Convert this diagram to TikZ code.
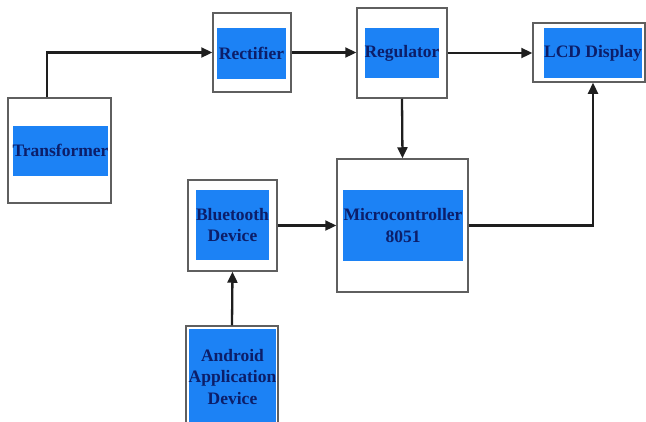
\documentclass[tikz,border=0pt]{standalone}
\usepackage{fontspec}
\setmainfont{Liberation Serif}[BoldFont={Liberation Serif Bold}]
\newfontfamily\boxfont{Liberation Serif Bold}
\usetikzlibrary{arrows.meta,calc}
\definecolor{boxblue}{RGB}{28,130,245}
\definecolor{txtnavy}{RGB}{12,30,105}
\definecolor{framegray}{RGB}{95,95,95}
\definecolor{arrowgray}{RGB}{30,30,30}
\tikzset{
  outerbox/.style={draw=framegray, line width=1.5pt, fill=white, rectangle, inner sep=0pt},
  innerbox/.style={fill=boxblue, rectangle, inner sep=0pt, text=txtnavy, align=center,
    font=\boxfont\fontsize{17.5}{21.5}\selectfont},
  arr/.style={draw=arrowgray, line width=2.3pt, -{Triangle[length=11pt,width=10pt]}}
}
\begin{document}
\begin{tikzpicture}[x=1pt,y=-1pt]
\useasboundingbox (0,0) rectangle (646,421);
% outer frames
\node[outerbox, minimum width=103pt, minimum height=105pt] (trO) at (59.5,150.5) {};
\node[outerbox, minimum width=78pt, minimum height=79pt] (reO) at (252,52.5) {};
\node[outerbox, minimum width=90pt, minimum height=90pt] (rgO) at (402,53) {};
\node[outerbox, minimum width=112pt, minimum height=59pt] (lcO) at (589,52.5) {};
\node[outerbox, minimum width=131pt, minimum height=133pt] (mcO) at (402.5,225.5) {};
\node[outerbox, minimum width=89pt, minimum height=91pt] (btO) at (232.5,225.5) {};
\node[outerbox, minimum width=92pt, minimum height=100pt] (anO) at (232,376) {};
% inner blue blocks
\node[innerbox, minimum width=95pt, minimum height=50pt] (trI) at (60.5,150.5) {Transformer};
\node[innerbox, minimum width=69pt, minimum height=51pt] (reI) at (251.5,53.5) {Rectifier};
\node[innerbox, minimum width=74pt, minimum height=50pt] (rgI) at (402,53) {Regulator};
\node[innerbox, minimum width=98pt, minimum height=50pt] (lcI) at (593,53) {LCD Display};
\node[innerbox, minimum width=120pt, minimum height=71pt] (mcI) at (403,225.5) {Microcontroller\\8051};
\node[innerbox, minimum width=73pt, minimum height=70pt] (btI) at (232.5,225) {Bluetooth\\Device};
\node[innerbox, minimum width=87pt, minimum height=96pt] (anI) at (232.5,377) {Android\\Application\\Device};
% connectors
\draw[arr] ([xshift=-12.5pt]trO.north) |- (reO.west);
\draw[arr] (reO.east) -- (reO.east -| rgO.west);
\draw[arr] (rgO.east) -- (rgO.east -| lcO.west);
\draw[arr] (rgO.south) -- (mcO.north);
\draw[arr] (btO.east) -- (btO.east -| mcO.west);
\draw[arr] (anO.north) -- (btO.south);
\draw[arr] (mcO.east) -| ([xshift=4pt]lcO.south);
\end{tikzpicture}
\end{document}
